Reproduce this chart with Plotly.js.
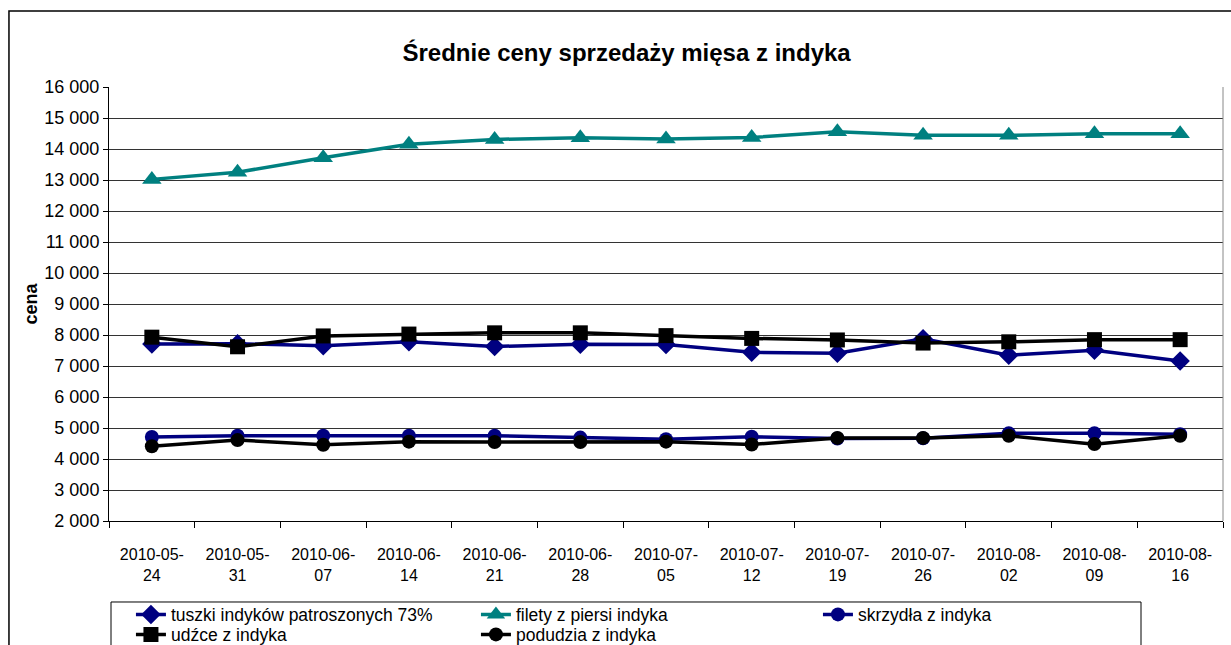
<!DOCTYPE html>
<html>
<head>
<meta charset="utf-8">
<script src="https://cdn.plot.ly/plotly-3.0.1.min.js"></script>
<style>html,body{margin:0;padding:0;background:#fff;overflow:hidden}#chart{width:1231px;height:645px}</style>
</head>
<body>
<div id="chart"></div>
<script>
const categories = ['2010-05-<br>24','2010-05-<br>31','2010-06-<br>07','2010-06-<br>14','2010-06-<br>21','2010-06-<br>28','2010-07-<br>05','2010-07-<br>12','2010-07-<br>19','2010-07-<br>26','2010-08-<br>02','2010-08-<br>09','2010-08-<br>16'];
const tuszki   = [7710, 7720, 7650, 7780, 7630, 7700, 7690, 7440, 7410, 7880, 7350, 7510, 7160];
const filety   = [13020, 13250, 13720, 14150, 14310, 14360, 14320, 14370, 14560, 14440, 14440, 14490, 14490];
const skrzydla = [4710, 4750, 4750, 4750, 4750, 4690, 4640, 4720, 4660, 4670, 4830, 4830, 4800];
const udzce    = [7930, 7620, 7970, 8030, 8070, 8070, 7980, 7890, 7840, 7740, 7780, 7850, 7850];
const podudzia = [4410, 4610, 4460, 4560, 4550, 4550, 4560, 4470, 4680, 4680, 4750, 4480, 4750];
const names = ['tuszki indyków patroszonych 73%','filety z piersi indyka','skrzydła z indyka','udźce z indyka','podudzia z indyka'];

const FONT = 'Liberation Sans, Arial, sans-serif';
function tr(y, name, color, symbol, size, leg) {
  return {x: categories, y: y, name: name, type: 'scatter', mode: 'lines+markers',
    line: {color: color, width: 3.5}, marker: {color: color, symbol: symbol, size: size},
    legend: leg};
}
const data = [
  tr(tuszki, names[0], '#000080', 'diamond', 15, 'legend'),
  tr(filety, names[1], '#008080', 'triangle-up', 17, 'legend2'),
  tr(skrzydla, names[2], '#000080', 'circle', 14, 'legend3'),
  tr(udzce, names[3], '#000000', 'square', 15, 'legend4'),
  tr(podudzia, names[4], '#000000', 'circle', 14, 'legend5')
];
function leg(x, y) {
  return {orientation: 'v', x: x, xanchor: 'left', y: y, yanchor: 'top', bgcolor: 'rgba(0,0,0,0)',
    borderwidth: 0, font: {size: 17.5, family: FONT}, tracegroupgap: 0, itemwidth: 30, traceorder: 'normal'};
}
const ROW1 = -0.1740, ROW2 = -0.2201;
const layout = {
  width: 1231, height: 645,
  margin: {l: 109, r: 8, t: 87, b: 124, autoexpand: false},
  paper_bgcolor: '#fff', plot_bgcolor: '#fff',
  separators: ', ',
  font: {family: FONT, size: 16, color: '#000'},
  title: {text: '<b>Średnie ceny sprzedaży mięsa z indyka</b>', font: {family: FONT, size: 24, color: '#000'},
    x: 0.509, xref: 'container', xanchor: 'center', y: 0.919, yref: 'container', yanchor: 'middle'},
  xaxis: {type: 'category', range: [-0.5, 12.5], showgrid: false, showline: true, linecolor: '#000', linewidth: 1,
    ticks: 'outside', tickson: 'boundaries', ticklen: 6, tickcolor: '#000', tickfont: {size: 16, family: FONT},
    tickangle: 0, ticklabelstandoff: 19, zeroline: false, fixedrange: true},
  yaxis: {range: [2000, 16000], dtick: 1000, tick0: 0, tickformat: ',d', showgrid: true, gridcolor: '#333', gridwidth: 1,
    showline: true, linecolor: '#000', linewidth: 1, ticks: 'outside', ticklen: 5, tickcolor: '#000',
    tickfont: {size: 18, family: FONT}, zeroline: false,
    title: {text: '<b>cena</b>', font: {size: 18, family: FONT}, standoff: 2}, fixedrange: true},
  showlegend: true,
  legend: leg(0.0197, ROW1),
  legend2: leg(0.3294, ROW1),
  legend3: leg(0.6364, ROW1),
  legend4: leg(0.0197, ROW2),
  legend5: leg(0.3294, ROW2),
  shapes: [
    {type: 'line', xref: 'paper', yref: 'paper', x0: 1, x1: 1, y0: 0, y1: 1, line: {color: '#888', width: 1}},
    {type: 'rect', xref: 'paper', yref: 'paper', x0: -0.0898, x1: 1.2, y0: -0.4, y1: 1.175, line: {color: '#000', width: 1.5}, layer: 'below'},
    {type: 'rect', xref: 'paper', yref: 'paper', x0: 0.0018, x1: 0.9264, y0: -0.4, y1: -0.1866, line: {color: '#000', width: 1}, fillcolor: '#fff', layer: 'below'}
  ]
};
Plotly.newPlot('chart', data, layout, {displayModeBar: false, staticPlot: true});
</script>
</body>
</html>
